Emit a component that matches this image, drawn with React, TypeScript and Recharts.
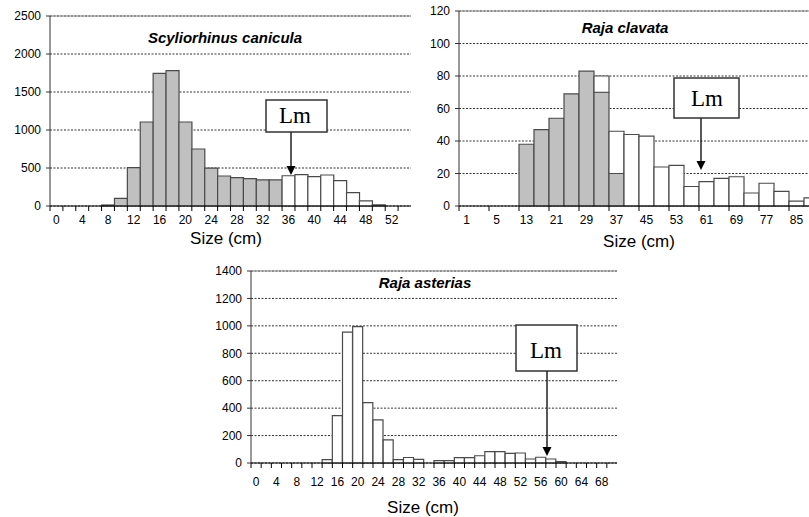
import React from "react";
import { BarChart, Bar, XAxis, YAxis, CartesianGrid, ReferenceLine } from "recharts";

// Scyliorhinus canicula, 2 cm classes
const canSizes = ["0", "2", "4", "6", "8", "10", "12", "14", "16", "18", "20", "22", "24", "26", "28", "30", "32", "34", "36", "38", "40", "42", "44", "46", "48", "50", "52", "54"];
const canImmature = [0, 0, 0, 0, 13, 100, 504, 1105, 1745, 1780, 1105, 750, 498, 395, 373, 360, 343, 343, 0, 0, 0, 0, 0, 0, 0, 0, 0, 0];
const canMature = [0, 0, 0, 0, 0, 0, 0, 0, 0, 0, 0, 0, 0, 0, 0, 0, 0, 0, 398, 412, 386, 408, 333, 175, 68, 16, 0, 0];
const canTicks = [0, 500, 1000, 1500, 2000, 2500];

// Raja clavata
const clavSizes = ["1", "3", "5", "9", "13", "17", "21", "25", "29", "33", "37", "41", "45", "49", "53", "57", "61", "65", "69", "73", "77", "81", "85", "89"];
const clavImmature = [0, 0, 0, 0, 38, 47, 54, 69, 83, 70, 20, 0, 0, 0, 0, 0, 0, 0, 0, 0, 0, 0, 0, 0];
const clavMature = [0, 0, 0, 0, 0, 0, 0, 0, 0, 10, 26, 44, 43, 24, 25, 12, 15, 17, 18, 8, 14, 9, 3, 5];
const clavTicks = [0, 20, 40, 60, 80, 100, 120];

// Raja asterias
const astSizes = ["0", "2", "4", "6", "8", "10", "12", "14", "16", "18", "20", "22", "24", "26", "28", "30", "32", "34", "36", "38", "40", "42", "44", "46", "48", "50", "52", "54", "56", "58", "60", "62", "64", "66", "68", "70"];
const astCounts = [0, 0, 0, 0, 0, 0, 0, 25, 345, 955, 995, 440, 315, 168, 25, 40, 27, 0, 18, 18, 39, 39, 53, 83, 83, 70, 73, 29, 42, 29, 10, 0, 0, 0, 0, 0];
const astTicks = [0, 200, 400, 600, 800, 1000, 1200, 1400];

const SANS = "'Liberation Sans', Arial, sans-serif";
const SERIF = "'Liberation Serif', 'Times New Roman', serif";

type TickProps = {
  x?: number;
  y?: number;
  index?: number;
  payload?: { value: string };
  step: number;
  lineEvery: number;
  gap: number;
};

// label every second class, tick line on class boundaries
function SizeTick({ x = 0, y = 0, index = 0, payload, step, lineEvery, gap }: TickProps) {
  const axisY = y - gap;
  const left = x - step / 2;
  return (
    <g>
      {index % lineEvery === 0 && (
        <line x1={left} x2={left} y1={axisY} y2={axisY + 5} stroke="#000" strokeWidth={1} />
      )}
      {index % 2 === 0 && (
        <text x={x} y={y} dy="0.71em" textAnchor="middle" fontSize={12} fill="#000" fontFamily={SANS}>
          {payload?.value}
        </text>
      )}
    </g>
  );
}

type HistProps = {
  rows: { size: string; immature: number; mature: number }[];
  width: number;
  height: number;
  top: number;
  yWidth: number;
  plotHeight: number;
  ticks: number[];
  lineEvery: number;
  gap: number;
};

function Histogram({ rows, width, height, top, yWidth, plotHeight, ticks, lineEvery, gap }: HistProps) {
  const step = (width - yWidth) / rows.length;
  const yMax = ticks[ticks.length - 1];
  return (
    <BarChart
      width={width}
      height={height}
      data={rows}
      margin={{ top, right: 0, left: 0, bottom: 0 }}
      barCategoryGap={0}
      barGap={0}
    >
      <CartesianGrid vertical={false} stroke="#333" strokeDasharray="2 1.5" />
      <XAxis
        dataKey="size"
        height={height - top - plotHeight}
        interval={0}
        tickLine={false}
        tickSize={0}
        tickMargin={gap}
        axisLine={{ stroke: "#000" }}
        tick={(p: any) => <SizeTick {...p} step={step} lineEvery={lineEvery} gap={gap} />}
      />
      <YAxis
        width={yWidth}
        domain={[0, yMax]}
        ticks={ticks}
        interval={0}
        tickSize={4}
        tickMargin={5}
        axisLine={{ stroke: "#333" }}
        tickLine={{ stroke: "#333" }}
        tick={{ fontSize: 12, fill: "#000", fontFamily: SANS }}
      />
      <ReferenceLine y={yMax} stroke="#8a8a8a" strokeWidth={1.2} />
      <Bar dataKey="immature" stackId="a" fill="#c0c0c0" stroke="#4a4a4a" strokeWidth={1.2} isAnimationActive={false} />
      <Bar dataKey="mature" stackId="a" fill="#ffffff" stroke="#4a4a4a" strokeWidth={1.2} isAnimationActive={false} />
    </BarChart>
  );
}

function Callout({ x, y, w, h, textX, textY, arrowX, tipY }: { x: number; y: number; w: number; h: number; textX: number; textY: number; arrowX: number; tipY: number }) {
  return (
    <g>
      <rect x={x} y={y} width={w} height={h} fill="#fff" stroke="#333" strokeWidth={1.5} />
      <text x={textX} y={textY} textAnchor="middle" fontFamily={SERIF} fontSize={23} fill="#000">
        Lm
      </text>
      <line x1={arrowX} x2={arrowX} y1={y + h} y2={tipY - 8} stroke="#222" strokeWidth={1.5} />
      <polygon points={`${arrowX - 4.5},${tipY - 9} ${arrowX + 4.5},${tipY - 9} ${arrowX},${tipY}`} fill="#000" />
    </g>
  );
}

export default function App() {
  const canRows = canSizes.map((size, i) => ({ size, immature: canImmature[i], mature: canMature[i] }));
  const clavRows = clavSizes.map((size, i) => ({ size, immature: clavImmature[i], mature: clavMature[i] }));
  const astRows = astSizes.map((size, i) => ({ size, immature: 0, mature: astCounts[i] }));

  return (
    <div style={{ position: "absolute", left: 0, top: 0, width: 809, height: 517, overflow: "hidden", background: "#fff", fontFamily: SANS }}>
      <div style={{ position: "absolute", left: 0, top: 0, width: 411, height: 260 }}>
        <Histogram rows={canRows} width={411} height={260} top={16} yWidth={50} plotHeight={190} ticks={canTicks} lineEvery={1} gap={9} />
      </div>
      <div style={{ position: "absolute", left: 411, top: 0, width: 398, height: 260, overflow: "hidden", background: "#fff" }}>
        <Histogram rows={clavRows} width={408} height={260} top={11} yWidth={48} plotHeight={195} ticks={clavTicks} lineEvery={2} gap={9} />
      </div>
      <div style={{ position: "absolute", left: 190, top: 260, width: 430, height: 257 }}>
        <Histogram rows={astRows} width={427} height={257} top={11} yWidth={61} plotHeight={192} ticks={astTicks} lineEvery={1} gap={14} />
      </div>
      <svg width={809} height={517} style={{ position: "absolute", left: 0, top: 0, pointerEvents: "none" }}>
        <g fontFamily={SANS} fill="#000">
          <text x={225} y={43} textAnchor="middle" fontSize={15} fontWeight="bold" fontStyle="italic">Scyliorhinus canicula</text>
          <text x={625} y={33} textAnchor="middle" fontSize={15} fontWeight="bold" fontStyle="italic">Raja clavata</text>
          <text x={425} y={288} textAnchor="middle" fontSize={15} fontWeight="bold" fontStyle="italic">Raja asterias</text>
          <text x={226} y={244} textAnchor="middle" fontSize={17}>Size (cm)</text>
          <text x={639} y={247} textAnchor="middle" fontSize={17}>Size (cm)</text>
          <text x={423} y={513} textAnchor="middle" fontSize={17}>Size (cm)</text>
        </g>
        <Callout x={266} y={100} w={61} h={32} textX={295} textY={123} arrowX={291} tipY={175} />
        <Callout x={674} y={78} w={65} h={40} textX={707} textY={106} arrowX={701} tipY={170} />
        <Callout x={516} y={325} w={61} h={46} textX={546} textY={358} arrowX={547} tipY={456} />
      </svg>
    </div>
  );
}
